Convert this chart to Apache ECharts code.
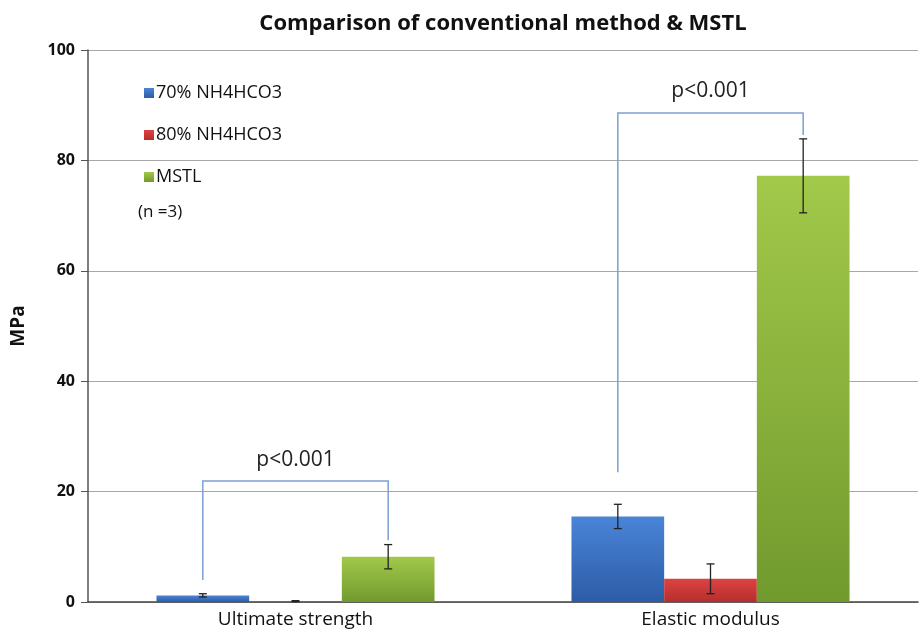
<!DOCTYPE html>
<html><head><meta charset="utf-8">
<script src="https://cdn.jsdelivr.net/npm/echarts@6/dist/echarts.min.js"></script>
<style>html,body{margin:0;padding:0;background:#fff}#c{width:922px;height:630px}</style>
</head><body><div id="c"></div>
<script>
const categories = ['Ultimate strength', 'Elastic modulus'];
const seriesNames = ['70% NH4HCO3', '80% NH4HCO3', 'MSTL'];
const values70 = [1.2, 15.5];
const values80 = [0.15, 4.2];
const valuesMSTL = [8.2, 77.2];
const err70 = [0.3, 2.2];
const err80 = [0.1, 2.7];
const errMSTL = [2.2, 6.7];
// brackets: [category index, left end y, top y, right end y]
const brackets = [[0, 4.0, 21.9, 11.2], [1, 23.5, 88.6, 84.6]];
const bracketLabel = 'p<0.001';
const yTicks = [0, 20, 40, 60, 80, 100];

const BAR_GAP = 0.33;
const colors = [
  ['#4a84d8', '#2c5ca6'],
  ['#de4242', '#b52e2e'],
  ['#a2c94a', '#719a2e']
];
function grad(c){return new echarts.graphic.LinearGradient(0,0,0,1,[{offset:0,color:c[0]},{offset:1,color:c[1]}]);}

const allVals=[values70,values80,valuesMSTL];
const allErr=[err70,err80,errMSTL];
const series=[];
seriesNames.forEach((n,i)=>{
  series.push({name:n,type:'bar',data:allVals[i],barGap:'0%',barCategoryGap:(BAR_GAP*100)+'%',
    itemStyle:{color:grad(colors[i])},z:2});
});
seriesNames.forEach((n,i)=>{
  series.push({type:'custom',z:5,silent:true,
    data:allVals[i].map((v,k)=>[k,v,allErr[i][k]]),
    renderItem:function(params,api){
      const k=api.value(0),v=api.value(1),e=api.value(2);
      const band=api.size([1,0])[0];
      const bw=band*(1-BAR_GAP)/3;
      const c=api.coord([k,v]);
      const x=c[0]+(i-1)*bw;
      const yt=api.coord([k,v+e])[1], yb=api.coord([k,Math.max(v-e,0)])[1];
      const st={stroke:'#222',lineWidth:1.3};
      return {type:'group',children:[
        {type:'line',shape:{x1:x,y1:yt,x2:x,y2:yb},style:st},
        {type:'line',shape:{x1:x-4,y1:yt,x2:x+4,y2:yt},style:st},
        {type:'line',shape:{x1:x-4,y1:yb,x2:x+4,y2:yb},style:st}
      ]};
    }});
});
series.push({type:'custom',z:4,silent:true,data:brackets,
  renderItem:function(params,api){
    const k=api.value(0);
    const band=api.size([1,0])[0];
    const bw=band*(1-BAR_GAP)/3;
    const cx=api.coord([k,0])[0];
    const xl=cx-bw, xr=cx+bw;
    const yl=api.coord([k,api.value(1)])[1], yt=api.coord([k,api.value(2)])[1], yr=api.coord([k,api.value(3)])[1];
    return {type:'group',children:[
      {type:'polyline',shape:{points:[[xl,yl],[xl,yt],[xr,yt],[xr,yr]]},style:{stroke:'#7d9fcf',lineWidth:1.5,fill:null}},
      {type:'text',style:{text:bracketLabel,x:cx,y:yt-11,textAlign:'center',textVerticalAlign:'bottom',font:'21px "Open Sans"',fill:'#222'}}
    ]};
  }});

const chart=echarts.init(document.getElementById('c'));
chart.setOption({
  animation:false,
  title:{text:'Comparison of conventional method & MSTL',left:498,top:8,textAlign:'center',
    textStyle:{fontFamily:'Open Sans',fontSize:22,fontWeight:'bold',color:'#111'}},
  legend:{data:seriesNames,orient:'vertical',left:139,top:79,itemGap:24,itemWidth:10,itemHeight:10,icon:'rect',
    textStyle:{fontFamily:'Open Sans',fontSize:18,color:'#111',padding:[0,0,0,-3]}},
  graphic:[{type:'text',left:138,top:204,style:{text:'(n =3)',font:'17px "Open Sans"',fill:'#111'}}],
  grid:{left:88,right:4,top:50,bottom:28},
  xAxis:{type:'category',data:categories,axisTick:{show:false},
    axisLine:{lineStyle:{color:'#444',width:1.5}},
    axisLabel:{fontFamily:'Open Sans',fontSize:19,color:'#111',margin:8}},
  yAxis:{type:'value',min:0,max:100,interval:20,name:'MPa',nameLocation:'middle',nameGap:60,
    nameTextStyle:{fontFamily:'Open Sans',fontSize:19,fontWeight:'bold',color:'#111'},
    axisLine:{show:true,lineStyle:{color:'#555',width:1.5}},
    axisTick:{show:true,length:7,lineStyle:{color:'#555'}},
    axisLabel:{fontFamily:'Open Sans',fontSize:16,fontWeight:'bold',color:'#111',margin:13,
      formatter:v=>yTicks.includes(v)?String(v):''},
    splitLine:{lineStyle:{color:'#a8a8a8',width:1.2}}},
  series:series
});
</script></body></html>
